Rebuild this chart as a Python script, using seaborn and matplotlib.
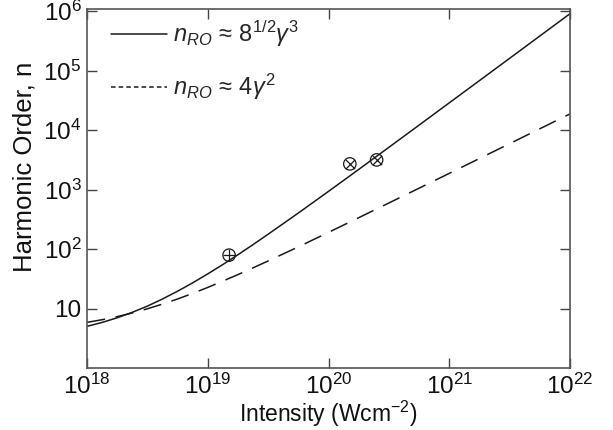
import matplotlib
matplotlib.use('Agg')
import matplotlib.pyplot as plt
import seaborn as sns
from matplotlib.lines import Line2D
from matplotlib.ticker import FixedLocator, FixedFormatter, NullLocator

# Data (log-log)
intensity = [1e18, 1.334e18, 1.778e18, 2.371e18, 3.162e18, 4.217e18, 5.623e18, 7.499e18,
             1e19, 1.334e19, 1.778e19, 2.371e19, 3.162e19, 5.623e19,
             1e20, 1.778e20, 3.162e20, 5.623e20,
             1e21, 1.778e21, 3.162e21, 5.623e21, 1e22]
n_cubic = [5.03, 5.85, 7.01, 8.66, 11.0, 14.5, 19.6, 27.1,
           38.3, 55.1, 80.4, 119, 178, 404,
           934, 2184, 5139, 12130,
           28710, 67970, 161000, 381700, 905300]
n_square = [5.87, 6.50, 7.33, 8.44, 9.92, 11.9, 14.5, 18.0,
            22.7, 29.0, 37.3, 48.4, 63.2, 109,
            191, 337, 596, 1056,
            1875, 3331, 5921, 10530, 18720]

# experimental points
plus_x = [1.5e19]
plus_y = [79]
cross_x = [1.5e20, 2.5e20]
cross_y = [2700, 3150]

xticks = [1e18, 1e19, 1e20, 1e21, 1e22]
xlabels = ['$10^{18}$', '$10^{19}$', '$10^{20}$', '$10^{21}$', '$10^{22}$']
yticks = [10, 1e2, 1e3, 1e4, 1e5, 1e6]
ylabels = ['10', '$10^2$', '$10^3$', '$10^4$', '$10^5$', '$10^6$']

sns.set_style('ticks')
plt.rcParams['font.family'] = ['Liberation Sans', 'DejaVu Sans']
plt.rcParams['mathtext.fontset'] = 'custom'
plt.rcParams['mathtext.rm'] = 'Liberation Sans'
plt.rcParams['mathtext.it'] = 'Liberation Sans:italic'
plt.rcParams['mathtext.default'] = 'regular'

fig = plt.figure(figsize=(6.13, 4.3), dpi=100)
ax = fig.add_axes([0.142, 0.144, 0.788, 0.836])

ink = '#1a1a1a'
sns.lineplot(x=intensity, y=n_cubic, ax=ax, color=ink, lw=1.1, estimator=None)
sns.lineplot(x=intensity, y=n_square, ax=ax, color=ink, lw=1.1, estimator=None,
             dashes=False)
ax.lines[-1].set_dashes([12, 7])

ax.scatter(plus_x, plus_y, s=80, facecolors='none', edgecolors=ink, linewidths=0.9, zorder=5)
ax.scatter(plus_x, plus_y, s=80, marker='+', color=ink, linewidths=0.9, zorder=5)
ax.scatter(cross_x, cross_y, s=80, facecolors='none', edgecolors=ink, linewidths=0.9, zorder=5)
ax.scatter(cross_x, cross_y, s=45, marker='x', color=ink, linewidths=0.9, zorder=5)

ax.set_xscale('log')
ax.set_yscale('log')
ax.set_xlim(1e18, 1e22)
ax.set_ylim(1, 1.1e6)

ax.xaxis.set_major_locator(FixedLocator(xticks))
ax.xaxis.set_major_formatter(FixedFormatter(xlabels))
ax.yaxis.set_major_locator(FixedLocator(yticks))
ax.yaxis.set_major_formatter(FixedFormatter(ylabels))
ax.xaxis.set_minor_locator(NullLocator())
ax.yaxis.set_minor_locator(NullLocator())
ax.tick_params(which='major', direction='in', length=7, width=1, color='#444444',
               labelsize=17.5, top=True, right=True, pad=4, labelcolor='#111111')

for s in ax.spines.values():
    s.set_color('#555555')
    s.set_linewidth(1.2)

ax.set_xlabel('Intensity (Wcm$^{-2}$)', fontsize=16.5, color='#111111', labelpad=0)
ax.set_ylabel('Harmonic Order, n', fontsize=18.5, color='#111111')
ax.yaxis.set_label_coords(-0.105, 0.56)

handles = [Line2D([], [], color=ink, lw=1.1),
           Line2D([], [], color=ink, lw=1.1, dashes=[3, 2])]
labels = [r'$\mathit{n}_{\mathit{RO}}\,\approx\,8^{1/2}\mathit{\gamma}^3$',
          r'$\mathit{n}_{\mathit{RO}}\,\approx\,4\mathit{\gamma}^2$']
ax.legend(handles, labels, loc='upper left', frameon=False, fontsize=17,
          handlelength=2.4, handletextpad=0.25, labelspacing=0.95,
          bbox_to_anchor=(0.005, 1.03), borderaxespad=0.5)

fig.savefig('out.png', dpi=100)
